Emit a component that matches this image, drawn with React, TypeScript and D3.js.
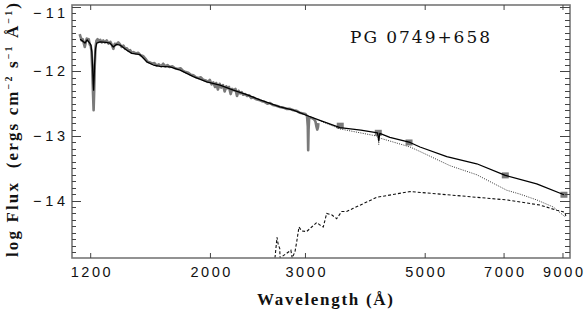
import { useRef, useEffect } from 'react';
import * as d3 from 'd3';

// axis ticks
const xTicks = [1200, 2000, 3000, 5000, 7000, 9000];
const yTicks = [-11, -12, -13, -14];

// observed UV spectrum (grey)
const obsWave = [1145, 1150, 1155, 1160, 1165, 1170, 1175, 1180, 1185, 1190, 1195, 1200, 1204, 1208, 1212, 1215, 1218, 1221, 1225, 1230, 1236, 1242, 1250, 1258, 1266, 1275, 1285, 1295, 1305, 1315, 1322, 1330, 1340, 1350, 1360, 1370, 1380, 1390, 1400, 1410, 1420, 1430, 1440, 1455, 1470, 1485, 1500, 1515, 1530, 1545, 1560, 1575, 1590, 1605, 1620, 1635, 1650, 1665, 1680, 1700, 1720, 1740, 1760, 1780, 1800, 1820, 1840, 1860, 1880, 1900, 1920, 1940, 1960, 1980, 1995, 2010, 2025, 2040, 2050, 2065, 2080, 2095, 2110, 2125, 2140, 2150, 2165, 2180, 2195, 2210, 2225, 2240, 2255, 2270, 2285, 2300, 2320, 2340, 2360, 2380, 2400, 2430, 2460, 2490, 2520, 2550, 2580, 2610, 2650, 2690, 2730, 2770, 2810, 2850, 2890, 2930, 2970, 3000, 3020, 3030, 3035, 3040, 3048, 3080, 3110, 3130, 3145, 3155, 3165, 3170];
const obsFlux = [-11.42, -11.47, -11.52, -11.5, -11.56, -11.62, -11.55, -11.49, -11.52, -11.5, -11.58, -11.6, -11.68, -11.95, -12.35, -12.6, -12.3, -11.9, -11.62, -11.52, -11.5, -11.54, -11.51, -11.55, -11.52, -11.55, -11.52, -11.57, -11.54, -11.6, -11.65, -11.57, -11.58, -11.55, -11.58, -11.62, -11.6, -11.65, -11.64, -11.68, -11.67, -11.71, -11.7, -11.72, -11.71, -11.75, -11.76, -11.8, -11.85, -11.86, -11.88, -11.87, -11.91, -11.89, -11.92, -11.88, -11.92, -11.9, -11.93, -11.92, -11.95, -11.96, -11.95, -11.99, -12.01, -12.02, -12.05, -12.06, -12.09, -12.1, -12.09, -12.13, -12.14, -12.16, -12.13, -12.2, -12.17, -12.24, -12.18, -12.28, -12.19, -12.25, -12.21, -12.31, -12.23, -12.26, -12.24, -12.35, -12.27, -12.29, -12.27, -12.38, -12.3, -12.34, -12.32, -12.36, -12.35, -12.38, -12.37, -12.41, -12.4, -12.43, -12.44, -12.46, -12.47, -12.5, -12.49, -12.52, -12.53, -12.55, -12.56, -12.58, -12.58, -12.6, -12.61, -12.64, -12.65, -12.66, -12.69, -12.85, -13.22, -12.9, -12.71, -12.72, -12.74, -12.77, -12.86, -12.9, -12.86, -12.8];

// composite model (solid)
const modelWave = [1147, 1160, 1171, 1182, 1195, 1201, 1206, 1210, 1213, 1215, 1217, 1220, 1225, 1231, 1249, 1280, 1303, 1321, 1340, 1360, 1400, 1430, 1481, 1524, 1568, 1613, 1683, 1757, 1859, 1968, 2084, 2205, 2335, 2471, 2691, 2848, 3036, 3200, 3476, 3800, 4080, 4101, 4120, 4300, 4687, 4890, 5482, 6230, 7037, 8046, 9038];
const modelFlux = [-11.5, -11.53, -11.56, -11.51, -11.56, -11.59, -11.7, -11.95, -12.2, -12.29, -12.15, -11.9, -11.65, -11.56, -11.54, -11.55, -11.56, -11.62, -11.58, -11.59, -11.67, -11.72, -11.74, -11.85, -11.9, -11.92, -11.93, -11.98, -12.08, -12.16, -12.21, -12.29, -12.36, -12.44, -12.55, -12.6, -12.69, -12.76, -12.87, -12.91, -12.95, -13.07, -12.96, -13.02, -13.1, -13.17, -13.32, -13.43, -13.61, -13.74, -13.91];

// hot star model (dotted)
const hotWave = [2900, 3058, 3476, 4065, 4090, 4101, 4112, 4687, 4890, 5559, 6230, 7079, 7491, 8046, 8636, 9077];
const hotFlux = [-12.62, -12.7, -12.89, -13.0, -13.01, -13.13, -13.03, -13.17, -13.24, -13.46, -13.6, -13.84, -13.9, -13.99, -14.1, -14.25];

// companion model (dashed)
const compWave = [2634, 2657, 2672, 2688, 2692, 2819, 2835, 2869, 2890, 2918, 2952, 3015, 3081, 3147, 3192, 3237, 3284, 3355, 3427, 3501, 3576, 3679, 4065, 4687, 5327, 7079, 8160, 8761, 9077, 9116];
const compFlux = [-14.89, -14.57, -14.69, -14.74, -14.89, -14.77, -14.89, -14.79, -14.64, -14.41, -14.47, -14.48, -14.41, -14.34, -14.38, -14.41, -14.2, -14.22, -14.28, -14.17, -14.17, -14.12, -13.95, -13.86, -13.9, -13.99, -14.07, -14.15, -14.18, -14.25];

// photometry (grey squares)
const photWave = [3480, 4093, 4667, 7037, 9038];
const photFlux = [-12.84, -12.95, -13.1, -13.61, -13.91];

const W = 585;
const H = 311;

const App = () => {
  const svgRef = useRef(null);

  useEffect(() => {
    const svg = d3.select(svgRef.current);
    svg.selectAll('*').remove();

    const left = 72, right = 570, top = 5, bottom = 258;
    const x = d3.scaleLog().domain([1108, 9274]).range([left, right]);
    const y = d3.scaleLinear().domain([-14.89, -10.97]).range([bottom, top]);

    svg.append('defs').append('clipPath').attr('id', 'plotclip')
      .append('rect')
      .attr('x', left).attr('y', top)
      .attr('width', right - left).attr('height', bottom - top);

    const plot = svg.append('g').attr('clip-path', 'url(#plotclip)');

    const line = d3.line<[number, number]>()
      .x(d => x(d[0]))
      .y(d => y(d[1]));

    const pairs = (w: number[], f: number[]) => w.map((v, i) => [v, f[i]] as [number, number]);

    // photometric points (under the lines)
    plot.selectAll('rect.phot')
      .data(pairs(photWave, photFlux))
      .enter()
      .append('rect')
        .attr('class', 'phot')
        .attr('x', d => x(d[0]) - 3.5)
        .attr('y', d => y(d[1]) - 3)
        .attr('width', 7)
        .attr('height', 6)
        .attr('fill', '#7a7a7a');

    plot.append('path')
      .attr('d', line(pairs(obsWave, obsFlux)))
      .attr('fill', 'none')
      .attr('stroke', '#7a7a7a')
      .attr('stroke-width', 2.6)
      .attr('stroke-linejoin', 'round');

    plot.append('path')
      .attr('d', line(pairs(compWave, compFlux)))
      .attr('fill', 'none')
      .attr('stroke', '#111')
      .attr('stroke-width', 1.1)
      .attr('stroke-dasharray', '3,2');

    plot.append('path')
      .attr('d', line(pairs(hotWave, hotFlux)))
      .attr('fill', 'none')
      .attr('stroke', '#333')
      .attr('stroke-width', 1)
      .attr('stroke-dasharray', '1,1.3');

    plot.append('path')
      .attr('d', line(pairs(modelWave, modelFlux)))
      .attr('fill', 'none')
      .attr('stroke', '#000')
      .attr('stroke-width', 1.3)
      .attr('stroke-linejoin', 'round');

    // frame
    svg.append('rect')
      .attr('x', left).attr('y', top)
      .attr('width', right - left).attr('height', bottom - top)
      .attr('fill', 'none')
      .attr('stroke', '#777')
      .attr('stroke-width', 1.6);

    const ticks = svg.append('g').attr('stroke', '#444').attr('stroke-width', 1);

    // x ticks (inside, bottom and top)
    xTicks.forEach(t => {
      ticks.append('line').attr('x1', x(t)).attr('x2', x(t)).attr('y1', bottom).attr('y2', bottom - 5);
      ticks.append('line').attr('x1', x(t)).attr('x2', x(t)).attr('y1', top).attr('y2', top + 5);
    });

    // y ticks, minor every 0.1
    d3.range(-148, -109).forEach(v => {
      const t = v / 10;
      const major = v % 10 === 0;
      const yy = Math.round(y(t)) + 0.5;
      ticks.append('line').attr('x1', left).attr('x2', left + (major ? 9 : 4)).attr('y1', yy).attr('y2', yy);
      ticks.append('line').attr('x1', right).attr('x2', right - (major ? 10 : 5)).attr('y1', yy).attr('y2', yy);
    });

    // x tick labels
    svg.append('g')
      .selectAll('text')
      .data(xTicks)
      .enter()
      .append('text')
        .attr('x', d => x(d))
        .attr('y', 277)
        .attr('text-anchor', 'middle')
        .attr('font-family', 'Liberation Sans, Arial, sans-serif')
        .attr('font-size', 14.5)
        .attr('textLength', 40)
        .attr('lengthAdjust', 'spacing')
        .attr('fill', '#111')
        .text(d => d);

    // y tick labels
    svg.append('g')
      .selectAll('text')
      .data(yTicks)
      .enter()
      .append('text')
        .attr('x', 65)
        .attr('y', d => Math.max(y(d), 12.8) + 5)
        .attr('text-anchor', 'end')
        .attr('font-family', 'Liberation Sans, Arial, sans-serif')
        .attr('font-size', 14.5)
        .attr('textLength', 32)
        .attr('lengthAdjust', 'spacing')
        .attr('fill', '#111')
        .text(d => '\u2212' + Math.abs(d));

    // title
    svg.append('text')
      .attr('x', 420)
      .attr('y', 43)
      .attr('text-anchor', 'middle')
      .attr('font-family', 'DejaVu Serif, serif')
      .attr('font-size', 17)
      .attr('textLength', 140)
      .attr('lengthAdjust', 'spacing')
      .attr('fill', '#111')
      .text('PG 0749+658');

    // x axis label
    svg.append('text')
      .attr('x', 325)
      .attr('y', 305)
      .attr('text-anchor', 'middle')
      .attr('font-family', 'Liberation Serif, serif')
      .attr('font-weight', 'bold')
      .attr('font-size', 17)
      .attr('textLength', 136)
      .attr('lengthAdjust', 'spacing')
      .attr('fill', '#111')
      .text('Wavelength (\u00c5)');

    // y axis label
    const yl = svg.append('text')
      .attr('transform', 'translate(18,130) rotate(-90)')
      .attr('text-anchor', 'middle')
      .attr('font-family', 'Liberation Serif, serif')
      .attr('font-weight', 'bold')
      .attr('font-size', 17)
      .attr('textLength', 254)
      .attr('lengthAdjust', 'spacing')
      .attr('fill', '#111')
      .style('white-space', 'pre');
    yl.append('tspan').text('log Flux  (ergs cm');
    yl.append('tspan').attr('font-size', 10).attr('dy', -6).text('\u22122');
    yl.append('tspan').attr('dy', 6).text(' s');
    yl.append('tspan').attr('font-size', 10).attr('dy', -6).text('\u22121');
    yl.append('tspan').attr('dy', 6).text(' \u00c5');
    yl.append('tspan').attr('font-size', 10).attr('dy', -6).text('\u22121');
    yl.append('tspan').attr('dy', 6).text(')');
  }, []);

  return (
    <svg
      ref={svgRef}
      width={W}
      height={H}
      style={{ position: 'absolute', left: 0, top: 0, background: '#fff' }}
    />
  );
};

export default App;
